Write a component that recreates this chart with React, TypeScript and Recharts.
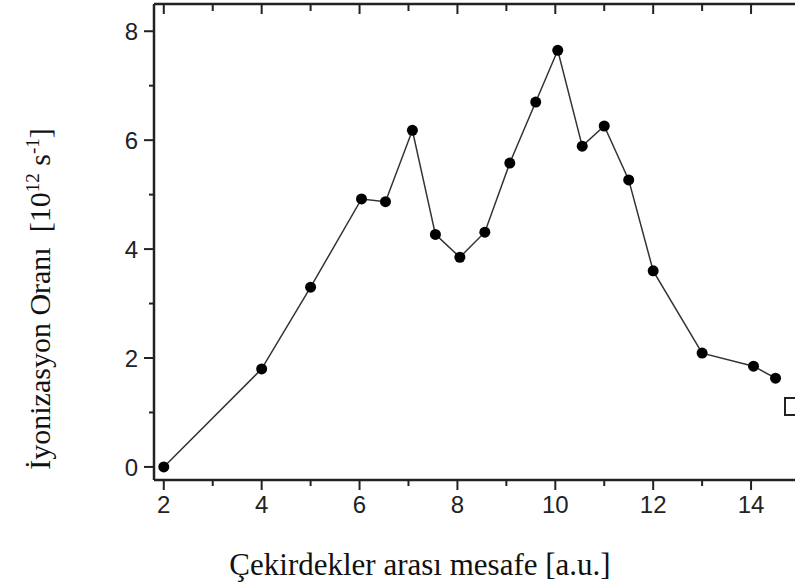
import { LineChart, Line, XAxis, YAxis } from "recharts";

// distances (a.u.) and ionization rates (10^12 s^-1)
const distances = [2, 4, 5, 6.04, 6.53, 7.08, 7.55, 8.05, 8.56, 9.07, 9.6, 10.05, 10.55, 11.0, 11.5, 12.0, 13.0, 14.05, 14.5];
const rates = [0, 1.8, 3.3, 4.92, 4.87, 6.18, 4.27, 3.85, 4.31, 5.58, 6.7, 7.65, 5.89, 6.26, 5.27, 3.6, 2.09, 1.85, 1.63];

const xTicks = [2, 3, 4, 5, 6, 7, 8, 9, 10, 11, 12, 13, 14];
const yTicks = [0, 1, 2, 3, 4, 5, 6, 7, 8];

const data = distances.map((d, i) => ({ d, rate: rates[i] }));

const INK = "#222";
const TICK_FONT = "'Liberation Sans', Arial, sans-serif";
const SERIF = "'Liberation Serif', 'Times New Roman', serif";

const tickText = { fontSize: 24, fontFamily: TICK_FONT, fill: INK };

const isMajor = (v: number) => v % 2 === 0;

function BottomTick(props: any) {
  const { x, y, payload } = props;
  const len = isMajor(payload.value) ? 10 : 6;
  return (
    <g>
      <line x1={x} x2={x} y1={y} y2={y + len} stroke={INK} strokeWidth={2} />
      {isMajor(payload.value) && (
        <text x={x} y={y + 33} textAnchor="middle" style={tickText}>
          {payload.value}
        </text>
      )}
    </g>
  );
}

function TopTick(props: any) {
  const { x, y, payload } = props;
  const len = isMajor(payload.value) ? 10 : 7;
  return <line x1={x} x2={x} y1={y} y2={y + len} stroke={INK} strokeWidth={2} />;
}

function LeftTick(props: any) {
  const { x, y, payload } = props;
  const len = isMajor(payload.value) ? 10 : 5;
  return (
    <g>
      <line x1={x} x2={x - len} y1={y} y2={y} stroke={INK} strokeWidth={2} />
      {isMajor(payload.value) && (
        <text x={x - 16} y={y + 9} textAnchor="end" style={tickText}>
          {payload.value}
        </text>
      )}
    </g>
  );
}

function RightTick(props: any) {
  const { x, y, payload } = props;
  const len = isMajor(payload.value) ? 10 : 6;
  return <line x1={x} x2={x - len} y1={y} y2={y} stroke={INK} strokeWidth={2} />;
}

export default function App() {
  return (
    <div
      style={{
        position: "absolute",
        left: 0,
        top: 0,
        width: 795,
        height: 586,
        overflow: "hidden",
        background: "#fff",
      }}
    >
      <LineChart width={801} height={586} data={data} margin={{ top: 3, right: 0, bottom: 105, left: 153 }}>
        <XAxis
          xAxisId="bottom"
          dataKey="d"
          type="number"
          domain={[1.8, 15]}
          ticks={xTicks}
          interval={0}
          height={1}
          tickSize={0}
          tickMargin={0}
          tickLine={false}
          tick={<BottomTick />}
          axisLine={{ stroke: INK, strokeWidth: 2.5 }}
        />
        <XAxis
          xAxisId="top"
          orientation="top"
          dataKey="d"
          type="number"
          domain={[1.8, 15]}
          ticks={xTicks}
          interval={0}
          height={1}
          tickSize={0}
          tickMargin={0}
          tickLine={false}
          tick={<TopTick />}
          axisLine={{ stroke: INK, strokeWidth: 2.5 }}
        />
        <YAxis
          yAxisId="left"
          type="number"
          domain={[-0.24, 8.5]}
          ticks={yTicks}
          interval={0}
          width={1}
          tickSize={0}
          tickMargin={0}
          tickLine={false}
          tick={<LeftTick />}
          axisLine={{ stroke: INK, strokeWidth: 2.5 }}
        />
        <YAxis
          yAxisId="right"
          orientation="right"
          type="number"
          domain={[-0.24, 8.5]}
          ticks={yTicks}
          interval={0}
          width={1}
          tickSize={0}
          tickMargin={0}
          tickLine={false}
          tick={<RightTick />}
          axisLine={{ stroke: INK, strokeWidth: 2.5 }}
        />
        <Line
          xAxisId="bottom"
          yAxisId="left"
          dataKey="rate"
          type="linear"
          stroke="#333"
          strokeWidth={1.5}
          dot={{ r: 5.5, fill: "#000", stroke: "#000", strokeWidth: 0 }}
          activeDot={false}
          isAnimationActive={false}
        />
      </LineChart>

      <div
        style={{
          position: "absolute",
          left: 420,
          top: 565,
          transform: "translate(-50%, -50%)",
          whiteSpace: "nowrap",
          fontFamily: SERIF,
          fontSize: 31,
          lineHeight: "36px",
          color: "#111",
        }}
      >
        Çekirdekler arası mesafe [a.u.]
      </div>

      <div
        style={{
          position: "absolute",
          left: 40,
          top: 299,
          transform: "translate(-50%, -50%) rotate(-90deg)",
          whiteSpace: "nowrap",
          fontFamily: SERIF,
          fontSize: 30,
          lineHeight: "36px",
          color: "#111",
        }}
      >
        İyonizasyon Oranı&nbsp;&nbsp;[10
        <sup style={{ fontSize: 19, verticalAlign: "0.6em", lineHeight: 0 }}>12</sup> s
        <sup style={{ fontSize: 19, verticalAlign: "0.6em", lineHeight: 0 }}>-1</sup>]
      </div>

      <div
        style={{
          position: "absolute",
          left: 784,
          top: 397,
          width: 14,
          height: 15,
          border: `2px solid ${INK}`,
          background: "#fff",
        }}
      />
    </div>
  );
}
